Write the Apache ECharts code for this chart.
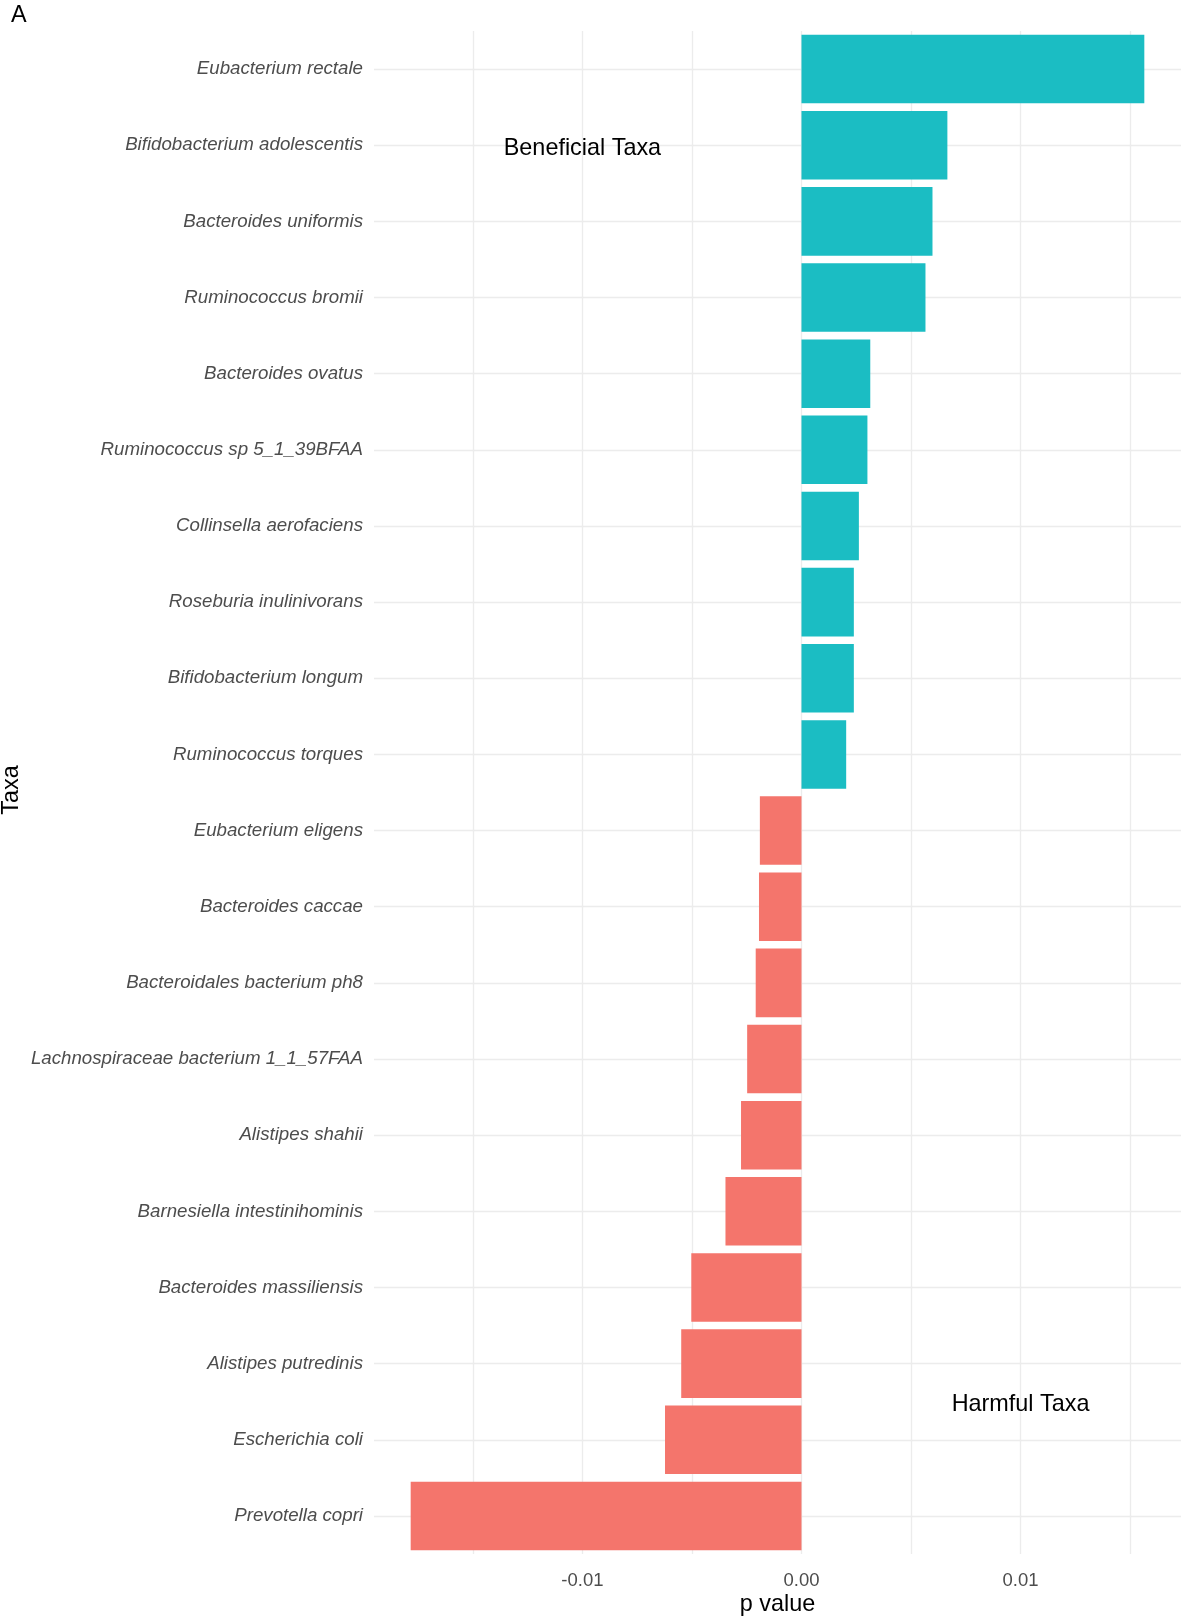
<!DOCTYPE html>
<html>
<head>
<meta charset="utf-8">
<title>Taxa p value</title>
<script src="https://cdn.jsdelivr.net/npm/echarts@6/dist/echarts.min.js"></script>
<style>
  html, body { margin: 0; padding: 0; background: #ffffff; }
  #chart_taxa { width: 1181px; height: 1617px; }
</style>
</head>
<body>
<div id="chart_taxa"></div>
<script>
// categories, top to bottom
var taxa = [
    'Eubacterium rectale',
    'Bifidobacterium adolescentis',
    'Bacteroides uniformis',
    'Ruminococcus bromii',
    'Bacteroides ovatus',
    'Ruminococcus sp 5_1_39BFAA',
    'Collinsella aerofaciens',
    'Roseburia inulinivorans',
    'Bifidobacterium longum',
    'Ruminococcus torques',
    'Eubacterium eligens',
    'Bacteroides caccae',
    'Bacteroidales bacterium ph8',
    'Lachnospiraceae bacterium 1_1_57FAA',
    'Alistipes shahii',
    'Barnesiella intestinihominis',
    'Bacteroides massiliensis',
    'Alistipes putredinis',
    'Escherichia coli',
    'Prevotella copri'
];
var pValues = [
    0.01565, 0.00666, 0.00598, 0.00566, 0.00314,
    0.00301, 0.00262, 0.00239, 0.00239, 0.00204,
    -0.00190, -0.00194, -0.00209, -0.00248, -0.00276,
    -0.00347, -0.00503, -0.00549, -0.00623, -0.01784
];
var xTicks = [-0.01, 0.00, 0.01];

// annotations: text, x value, the two categories it sits between
var noteText = ['Beneficial Taxa', 'Harmful Taxa'];
var noteX = [-0.01, 0.01];
var noteCat = [['Bifidobacterium adolescentis', 'Bifidobacterium adolescentis'],
               ['Alistipes putredinis', 'Escherichia coli']];

var FONT = "'Liberation Sans', Arial, Helvetica, sans-serif";
var gridLine = { color: '#ececec', width: 1.3 };

var myChart = echarts.init(document.getElementById('chart_taxa'));
var option = {
    backgroundColor: '#ffffff',
    animation: false,
    grid: { left: 374, right: 0, top: 31, bottom: 63, containLabel: false },
    xAxis: {
        type: 'value',
        // ggplot style 5% padding on each side
        min: function (v) { return v.min - 0.05 * (v.max - v.min); },
        max: function (v) { return v.max + 0.05 * (v.max - v.min); },
        minInterval: 0.005,
        maxInterval: 0.005,
        axisLine: { show: false },
        axisTick: { show: false },
        axisLabel: {
            color: '#4d4d4d',
            fontFamily: FONT,
            fontSize: 18.5,
            margin: 17,
            showMinLabel: false,
            showMaxLabel: false,
            formatter: function (val) {
                for (var i = 0; i < xTicks.length; i++) {
                    if (Math.abs(val - xTicks[i]) < 1e-9) return xTicks[i].toFixed(2);
                }
                return '';
            }
        },
        splitLine: { show: true, showMinLine: false, showMaxLine: false, lineStyle: gridLine }
    },
    yAxis: {
        type: 'category',
        inverse: true,
        data: taxa,
        axisLine: { show: false },
        axisTick: { show: false },
        axisLabel: {
            color: '#4d4d4d',
            fontFamily: FONT,
            fontStyle: 'italic',
            fontSize: 18.7,
            margin: 11,
            interval: 0
        },
        splitLine: { show: true, alignWithLabel: true, interval: 0, lineStyle: gridLine }
    },
    series: [
        {
            name: 'p value',
            type: 'bar',
            barWidth: '90%',
            data: pValues,
            itemStyle: {
                color: function (p) { return p.value >= 0 ? '#1bbdc3' : '#f4756c'; }
            }
        }
    ]
};
myChart.setOption(option);

// titles and annotations placed from the axes
var gridMidX = (374 + 1181) / 2;
var graphics = [
    { type: 'text', x: 11, y: 16, style: { text: 'A', fill: '#000', font: '23.4px ' + FONT, align: 'left', verticalAlign: 'middle' } },
    { type: 'text', x: 12, y: 790, rotation: Math.PI / 2, style: { text: 'Taxa', fill: '#000', font: '23.4px ' + FONT, align: 'center', verticalAlign: 'middle' } },
    { type: 'text', x: gridMidX, y: 1605, style: { text: 'p value', fill: '#000', font: '23.4px ' + FONT, align: 'center', verticalAlign: 'middle' } }
];
for (var i = 0; i < noteText.length; i++) {
    var a = myChart.convertToPixel({ gridIndex: 0 }, [noteX[i], noteCat[i][0]]);
    var b = myChart.convertToPixel({ gridIndex: 0 }, [noteX[i], noteCat[i][1]]);
    graphics.push({
        type: 'text', x: a[0], y: (a[1] + b[1]) / 2 + 3, z: 10,
        style: { text: noteText[i], fill: '#000', font: '23.4px ' + FONT, align: 'center', verticalAlign: 'middle' }
    });
}
myChart.setOption({ graphic: graphics });
</script>
</body>
</html>
